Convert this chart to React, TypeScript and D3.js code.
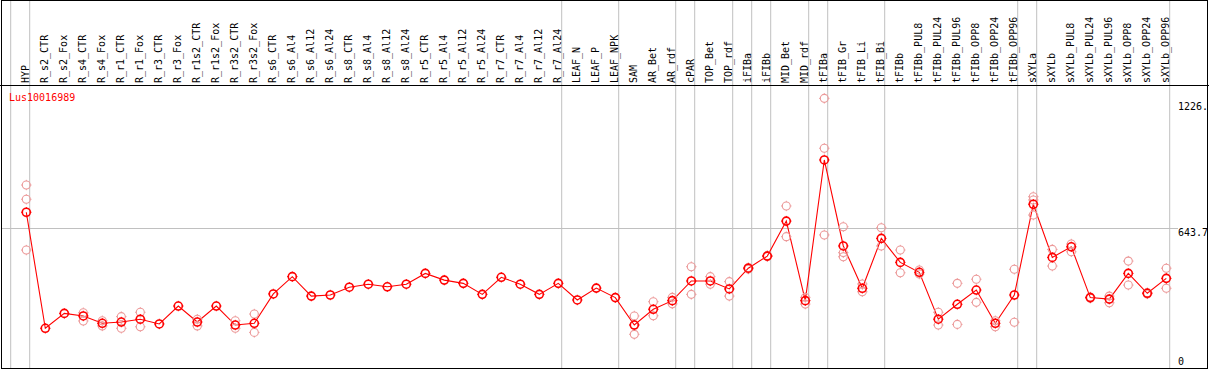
import React, { useEffect, useRef } from 'react';
import * as d3 from 'd3';

const geneName = 'Lus10016989';

const samples = [
  'HYP', 'R_s2_CTR', 'R_s2_Fox', 'R_s4_CTR', 'R_s4_Fox', 'R_r1_CTR', 'R_r1_Fox', 'R_r3_CTR', 'R_r3_Fox',
  'R_r1s2_CTR', 'R_r1s2_Fox', 'R_r3s2_CTR', 'R_r3s2_Fox', 'R_s6_CTR', 'R_s6_Al4', 'R_s6_Al12', 'R_s6_Al24',
  'R_s8_CTR', 'R_s8_Al4', 'R_s8_Al12', 'R_s8_Al24', 'R_r5_CTR', 'R_r5_Al4', 'R_r5_Al12', 'R_r5_Al24',
  'R_r7_CTR', 'R_r7_Al4', 'R_r7_Al12', 'R_r7_Al24', 'LEAF_N', 'LEAF_P', 'LEAF_NPK', 'SAM', 'AR_Bet', 'AR_rdf',
  'cPAR', 'TOP_Bet', 'TOP_rdf', 'iFIBa', 'iFIBb', 'MID_Bet', 'MID_rdf', 'tFIBa', 'tFIB_Gr', 'tFIB_Li', 'tFIB_Bi',
  'tFIBb', 'tFIBb_PUL8', 'tFIBb_PUL24', 'tFIBb_PUL96', 'tFIBb_OPP8', 'tFIBb_OPP24', 'tFIBb_OPP96',
  'sXYLa', 'sXYLb', 'sXYLb_PUL8', 'sXYLb_PUL24', 'sXYLb_PUL96', 'sXYLb_OPP8', 'sXYLb_OPP24', 'sXYLb_OPP96',
];

// mean expression per sample
const means = [
  718, 181, 250, 238, 204, 210, 223, 201, 284,
  210, 284, 196, 204, 340, 420, 330, 335,
  371, 385, 373, 385, 435, 404, 389, 338,
  417, 385, 338, 389, 312, 367, 323, 196, 269, 309,
  400, 400, 363, 459, 515, 677, 309, 960, 562, 366, 597,
  486, 440, 223, 292, 358, 204, 335,
  755, 509, 558, 323, 316, 435, 343, 412,
];

// replicate values (empty where they sit under the mean)
const replicates = [
  [844, 778, 543], [], [], [253, 215], [216, 192], [235, 181], [255, 188], [], [],
  [223, 192], [], [216, 181], [247, 162], [], [], [], [],
  [], [], [], [], [], [], [], [],
  [], [], [], [], [], [], [], [238, 197, 153], [304, 239], [324, 294],
  [466, 338], [420, 385], [397, 330], [455, 462], [513, 518], [747, 605], [324, 293], [1245, 1014, 613], [651, 531, 512], [386, 350], [646, 562],
  [543, 438], [451, 432], [255, 196], [389, 199], [408, 301], [216, 188], [454, 209],
  [790, 775, 705], [546, 469], [571, 535], [320, 326], [330, 299], [492, 381], [340, 346], [459, 366],
];

// column index where each tissue group starts
const groupStarts = [0, 1, 29, 32, 35, 36, 38, 39, 40, 42, 43, 46, 53, 54, 61];

const tickValues = [0, 643.7, 1226];
const tickLabels = ['0', '643.7', '1226.'];
const yMax = 1287.4;

function App() {
  const chartRef = useRef(null);

  useEffect(() => {
    document.body.style.margin = '0';
    const width = 1209;
    const height = 370;
    const font = '"DejaVu Sans Mono", monospace';

    const x = d3.scaleLinear().domain([0, samples.length]).range([11, 11 + 19 * samples.length]);
    const y = d3.scaleLinear().domain([0, yMax]).range([367.4, 89.2]);
    const px = (i: number) => x(i) + 15.3;
    const plotRight = x(samples.length);

    const svg = d3.select(chartRef.current)
      .append('svg')
      .attr('width', width)
      .attr('height', height)
      .style('display', 'block')
      .style('background', '#fff');

    // group separators
    svg.selectAll('line.grp')
      .data(groupStarts)
      .enter()
      .append('line')
      .attr('x1', d => x(d) - 0.3)
      .attr('x2', d => x(d) - 0.3)
      .attr('y1', 0)
      .attr('y2', 368)
      .attr('stroke', '#c0c0c0')
      .attr('stroke-width', 1);

    // mid grid line
    svg.append('line')
      .attr('x1', 1)
      .attr('x2', plotRight + 8)
      .attr('y1', Math.round(y(tickValues[1])) + 0.5)
      .attr('y2', Math.round(y(tickValues[1])) + 0.5)
      .attr('stroke', '#c0c0c0');

    // axis labels
    svg.selectAll('text.tick')
      .data(tickValues)
      .enter()
      .append('text')
      .attr('x', 1178)
      .attr('y', (d, i) => (i === 0 ? 365 : y(d) + 8))
      .attr('font-family', font)
      .attr('font-size', 10)
      .attr('fill', '#000')
      .text((d, i) => tickLabels[i]);

    // sample labels
    svg.selectAll('text.lbl')
      .data(samples)
      .enter()
      .append('text')
      .attr('transform', (d, i) => `translate(${x(i + 1) - 0.8},83) rotate(-90)`)
      .attr('font-family', font)
      .attr('font-size', 10)
      .attr('fill', '#000')
      .text(d => d);

    svg.append('text')
      .attr('x', 9)
      .attr('y', 101)
      .attr('font-family', font)
      .attr('font-size', 10)
      .attr('fill', '#ff0000')
      .text(geneName);

    // line through means
    const line = d3.line<number>()
      .x((d, i) => px(i))
      .y(d => y(d));

    svg.append('path')
      .attr('d', line(means))
      .attr('fill', 'none')
      .attr('stroke', '#ff0000')
      .attr('stroke-width', 1.1);

    const marker = (g: any, cx: number, cy: number, color: string, sw: number) => {
      const m = g.append('g').attr('transform', `translate(${cx},${cy})`);
      m.append('circle')
        .attr('r', 4)
        .attr('fill', 'none')
        .attr('stroke', color)
        .attr('stroke-width', sw);
      [[0, -1], [0, 1], [-1, 0], [1, 0]].forEach(([dx, dy]) => {
        m.append('line')
          .attr('x1', dx * 4)
          .attr('y1', dy * 4)
          .attr('x2', dx * 5.2)
          .attr('y2', dy * 5.2)
          .attr('stroke', color)
          .attr('stroke-width', 1);
      });
    };

    const repLayer = svg.append('g');
    replicates.forEach((reps, i) => {
      reps.forEach(v => marker(repLayer, px(i), y(v), '#ec9a9a', 1.1));
    });

    const meanLayer = svg.append('g');
    means.forEach((v, i) => marker(meanLayer, px(i), y(v), '#ff0000', 1.6));

    // frame
    svg.append('line')
      .attr('x1', 0).attr('x2', width)
      .attr('y1', 85.5).attr('y2', 85.5)
      .attr('stroke', '#000');
    svg.append('rect')
      .attr('x', 1.5)
      .attr('y', 0.5)
      .attr('width', 1206)
      .attr('height', 368)
      .attr('fill', 'none')
      .attr('stroke', '#000')
      .attr('stroke-width', 1);

    return () => {
      d3.select(chartRef.current).select('svg').remove();
    };
  }, []);

  return <div ref={chartRef}></div>;
}

export default App;
